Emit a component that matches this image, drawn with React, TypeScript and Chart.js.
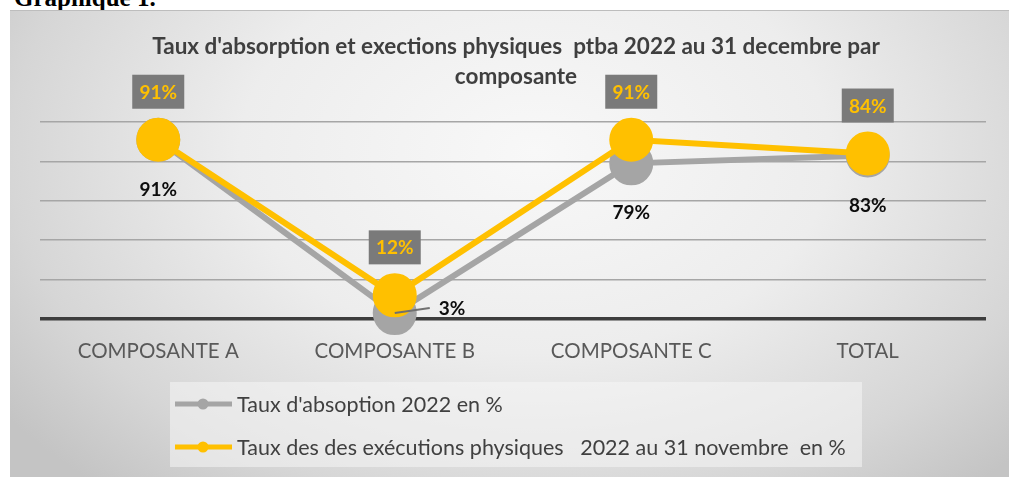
import React, { useEffect, useRef } from 'react';
import { Chart, registerables } from 'chart.js';

Chart.register(...registerables);

// ---- data ----
const categories = ['COMPOSANTE A', 'COMPOSANTE B', 'COMPOSANTE C', 'TOTAL'];
const absorption = [91, 3, 79, 83];
const execution = [91, 12, 91, 84];
const absorptionLabel = "Taux d'absoption 2022 en %";
const executionLabel = 'Taux des des exécutions physiques   2022 au 31 novembre  en %';
const titleLines = [
  "Taux d'absorption et exections physiques  ptba 2022 au 31 decembre par",
  'composante',
];
const yMin = 0;
const yMax = 100;
const yStep = 20;

const FONT = 'Lato, "Open Sans", sans-serif';

const titlePlugin = {
  id: 'customTitle',
  afterDraw(chart: any) {
    const ctx = chart.ctx;
    ctx.save();
    ctx.font = `bold 22.5px ${FONT}`;
    ctx.fillStyle = '#3f3f3f';
    ctx.textAlign = 'center';
    ctx.textBaseline = 'middle';
    titleLines.forEach((line, i) => ctx.fillText(line, 516, 47 + i * 30));
    ctx.restore();
  },
};

const labelsPlugin = {
  id: 'pointLabels',
  afterDatasetsDraw(chart: any) {
    const ctx = chart.ctx;
    ctx.save();
    ctx.font = `bold 19px ${FONT}`;
    ctx.textBaseline = 'middle';
    // absorption labels (dataset 0)
    const m0 = chart.getDatasetMeta(0);
    m0.data.forEach((pt: any, i: number) => {
      const v = chart.data.datasets[0].data[i];
      const txt = `${v}%`;
      ctx.fillStyle = '#0d0d0d';
      if (v < 10) {
        ctx.strokeStyle = '#707070';
        ctx.lineWidth = 2;
        ctx.beginPath();
        ctx.moveTo(pt.x, pt.y);
        ctx.lineTo(pt.x + 35, pt.y - 5);
        ctx.stroke();
        ctx.textAlign = 'left';
        ctx.fillText(txt, pt.x + 44, pt.y - 4);
      } else {
        ctx.textAlign = 'center';
        ctx.fillText(txt, pt.x, pt.y + 50);
      }
    });
    // execution labels (dataset 1)
    const m1 = chart.getDatasetMeta(1);
    m1.data.forEach((pt: any, i: number) => {
      const v = chart.data.datasets[1].data[i];
      const txt = `${v}%`;
      const cy = pt.y - 48;
      ctx.fillStyle = '#7a7a7a';
      ctx.fillRect(pt.x - 26, cy - 17, 52, 34);
      ctx.fillStyle = '#ffc000';
      ctx.textAlign = 'center';
      ctx.fillText(txt, pt.x, cy + 1);
    });
    ctx.restore();
  },
};

const legendPlugin = {
  id: 'customLegend',
  afterDraw(chart: any) {
    const ctx = chart.ctx;
    ctx.save();
    ctx.fillStyle = 'rgba(245,245,245,0.55)';
    ctx.fillRect(170, 382, 692, 85);
    chart.data.datasets.forEach((ds: any, i: number) => {
      const y = 404 + i * 43;
      ctx.strokeStyle = ds.borderColor;
      ctx.lineWidth = 5;
      ctx.beginPath();
      ctx.moveTo(175, y);
      ctx.lineTo(232, y);
      ctx.stroke();
      ctx.fillStyle = ds.borderColor;
      ctx.beginPath();
      ctx.arc(203, y, 5.5, 0, Math.PI * 2);
      ctx.fill();
      ctx.fillStyle = '#404040';
      ctx.font = `21.5px ${FONT}`;
      ctx.textAlign = 'left';
      ctx.textBaseline = 'middle';
      ctx.fillText(ds.label, 237, y + 1);
    });
    ctx.restore();
  },
};

function LineChart() {
  const ref = useRef<HTMLCanvasElement | null>(null);
  useEffect(() => {
    if (!ref.current) return;
    const chart = new Chart(ref.current, {
      type: 'line',
      data: {
        labels: categories,
        datasets: [
          {
            label: absorptionLabel,
            data: absorption,
            borderColor: '#a5a5a5',
            backgroundColor: '#a5a5a5',
            pointBackgroundColor: '#a5a5a5',
            pointBorderColor: '#a5a5a5',
            borderWidth: 6,
            pointRadius: 21,
            pointBorderWidth: 2,
            order: 2,
            clip: false,
          } as any,
          {
            label: executionLabel,
            data: execution,
            borderColor: '#ffc000',
            backgroundColor: '#ffc000',
            pointBackgroundColor: '#ffc000',
            pointBorderColor: '#ffc000',
            borderWidth: 6,
            pointRadius: 21,
            pointBorderWidth: 2,
            order: 1,
            clip: false,
          } as any,
        ],
      },
      options: {
        responsive: false,
        animation: false,
        devicePixelRatio: 1,
        layout: { padding: { left: 40, right: 17, top: 122, bottom: 118 } },
        plugins: {
          legend: { display: false },
          title: { display: false },
          tooltip: { enabled: false },
        },
        scales: {
          x: {
            type: 'category',
            offset: true,
            grid: { display: false, drawTicks: false },
            border: { display: false },
            ticks: {
              font: { family: FONT, size: 20.5 },
              color: '#595959',
              padding: 20,
              maxRotation: 0,
              autoSkip: false,
            },
            afterFit: (scale: any) => {
              scale.height = 40;
            },
          },
          y: {
            min: yMin,
            max: yMax,
            ticks: { stepSize: yStep, display: false },
            border: { display: false },
            grid: {
              drawTicks: false,
              color: (c: any) => (c.tick && c.tick.value === 0 ? '#3d3d3d' : '#a6a6a6'),
              lineWidth: (c: any) => (c.tick && c.tick.value === 0 ? 3.5 : 1.6),
            },
            afterFit: (scale: any) => {
              scale.width = 0;
            },
          },
        },
      },
      plugins: [titlePlugin, labelsPlugin, legendPlugin],
    } as any);
    return () => chart.destroy();
  }, []);
  return (
    <canvas
      ref={ref}
      width={1009}
      height={477}
      style={{ position: 'absolute', left: 0, top: 0, width: 1009, height: 477 }}
    />
  );
}

export default function App() {
  useEffect(() => {
    document.body.style.margin = '0';
  }, []);
  return (
    <div style={{ position: 'relative', width: 1009, height: 477, overflow: 'hidden', background: '#fff' }}>
      <div
        style={{
          position: 'absolute',
          left: 14,
          top: -15,
          font: 'bold 25px "Liberation Serif", serif',
          lineHeight: '25px',
          color: '#000',
          whiteSpace: 'nowrap',
        }}
      >
        Graphique 1.
      </div>
      <div
        style={{
          position: 'absolute',
          left: 10,
          top: 10,
          width: 1010,
          height: 470,
          borderTop: '1px solid #bdbdbd',
          background:
            'radial-gradient(ellipse 65% 95% at 52% 30%, #f8f8f8 0%, #ededed 45%, #d6d6d6 80%, #c4c4c4 100%)',
        }}
      />
      <LineChart />
    </div>
  );
}
